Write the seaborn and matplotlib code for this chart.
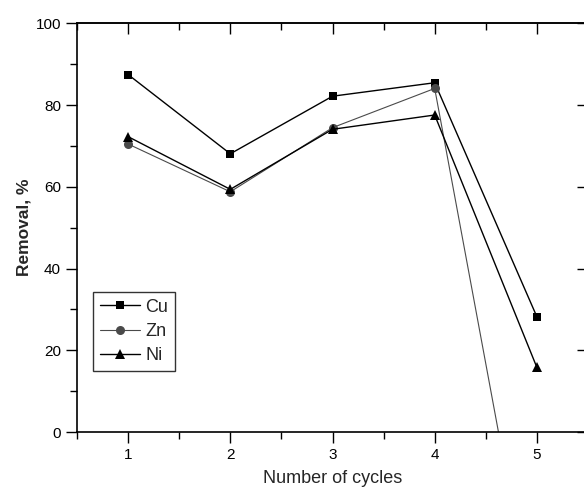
import matplotlib
matplotlib.use("Agg")
import matplotlib.pyplot as plt
from matplotlib.ticker import MultipleLocator, NullFormatter
import seaborn as sns
import pandas as pd

cycles = [1, 2, 3, 4, 5]
cu = [87.5, 68.1, 82.2, 85.5, 28.2]
zn = [70.5, 58.8, 74.5, 84.1, -50.7]
ni = [72.3, 59.4, 74.1, 77.6, 15.8]

sns.set_style("ticks")
plt.rcParams["font.family"] = ["Liberation Sans", "DejaVu Sans"]

fig = plt.figure(figsize=(5.84, 4.90), dpi=100)
ax = fig.add_axes([77 / 584, 58 / 490, 511 / 584, 408.5 / 490])

series = [
    ("Cu", cu, "black", "s", 1.0, 6.0),
    ("Zn", zn, "#4a4a4a", "o", 0.8, 6.5),
    ("Ni", ni, "black", "^", 1.0, 7.5),
]
for name, vals, col, mk, lw, ms in series:
    df = pd.DataFrame({"cycle": cycles, "removal": vals})
    sns.lineplot(data=df, x="cycle", y="removal", ax=ax, color=col,
                 marker=mk, markersize=ms, markeredgewidth=0,
                 linewidth=lw, label=name, clip_on=True)

ax.set_xlim(0.5, 5.5)
ax.set_ylim(0, 100)
ax.xaxis.set_major_locator(MultipleLocator(1))
ax.xaxis.set_minor_locator(MultipleLocator(0.5))
ax.yaxis.set_major_locator(MultipleLocator(20))
ax.yaxis.set_minor_locator(MultipleLocator(10))

for side in ["top", "right", "left", "bottom"]:
    ax.spines[side].set_visible(True)
    ax.spines[side].set_linewidth(1.2)
    ax.spines[side].set_color("black")

ax.tick_params(axis="both", which="both", direction="out", width=1.0,
               top=False, right=False, colors="black", labelsize=11)
ax.tick_params(axis="both", which="major", length=8)
ax.tick_params(axis="both", which="minor", length=5)

# inward ticks on the top and right edges
top = ax.secondary_xaxis("top")
top.xaxis.set_major_locator(MultipleLocator(1))
top.xaxis.set_minor_locator(MultipleLocator(0.5))
top.xaxis.set_major_formatter(NullFormatter())
top.tick_params(axis="x", which="both", direction="in", width=1.0,
                colors="black")
top.tick_params(axis="x", which="major", length=8)
top.tick_params(axis="x", which="minor", length=5)
top.spines["top"].set_linewidth(1.2)

right = ax.secondary_yaxis("right")
right.yaxis.set_major_locator(MultipleLocator(20))
right.yaxis.set_major_formatter(NullFormatter())
right.tick_params(axis="y", which="major", direction="in", width=1.0,
                  length=8, colors="black")
right.tick_params(axis="y", which="minor", right=False)

ax.set_xlabel("Number of cycles", fontsize=13, labelpad=6)
ax.set_ylabel("Removal, %", fontsize=12.5, fontweight="bold", labelpad=3)

leg = ax.legend(loc="upper left", bbox_to_anchor=(16 / 511, 1 - 268 / 408.5),
                frameon=True, fancybox=False, fontsize=13,
                handlelength=2.2, handletextpad=0.3, borderpad=0.4,
                labelspacing=0.4, borderaxespad=0)
leg.get_frame().set_edgecolor("black")
leg.get_frame().set_linewidth(1.0)

fig.savefig("out.png", dpi=100)
